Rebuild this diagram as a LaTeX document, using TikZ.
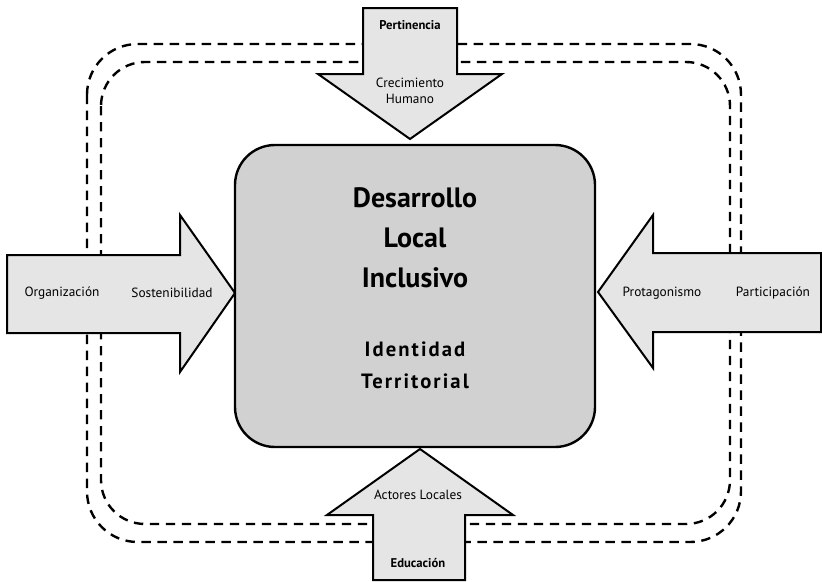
\documentclass[tikz,border=0pt]{standalone}
\usepackage{fontspec}
\setmainfont{PT Sans}
\newfontfamily\spacedfont[LetterSpace=10]{PT Sans}
\usetikzlibrary{positioning}

\tikzset{
	flecha/.style={draw=black, line width=1.5pt, fill=black!10, line join=miter},
	borde/.style={dash pattern=on 7pt off 5pt, line width=1.8pt},
	caja/.style={draw=black, line width=1.8pt, fill=black!18, rounded corners=30pt},
	etiqueta/.style={font=\fontsize{10}{12}\selectfont, align=center, inner sep=0pt},
	negrita/.style={font=\fontsize{9.5}{11}\selectfont\bfseries, inner sep=0pt},
	titulo/.style={font=\fontsize{21}{30}\selectfont\bfseries, align=center, inner sep=0pt},
	subtitulo/.style={font=\fontsize{15.5}{24}\selectfont\spacedfont\bfseries, align=center, inner sep=0pt}
}

\begin{document}
\begin{tikzpicture}[x=0.75pt, y=-0.75pt]
	\useasboundingbox (0,0) rectangle (822,582);

	% lineas discontinuas
	\draw[borde, rounded corners=38pt] (87,44) rectangle (741,542);
	\draw[borde, rounded corners=33pt] (101,62) rectangle (730,524);

	% flechas
	\filldraw[flecha] (363,8) -- (457,8) -- (457,74) -- (502,74) -- (410,139) -- (318,74) -- (363,74) -- cycle;
	\filldraw[flecha] (373,580) -- (465,580) -- (465,515) -- (513,515) -- (420,449) -- (327,515) -- (373,515) -- cycle;
	\filldraw[flecha] (7,255) -- (180,255) -- (180,215) -- (235,293) -- (180,372) -- (180,333) -- (7,333) -- cycle;
	\filldraw[flecha] (821,253) -- (653,253) -- (653,215) -- (598,292) -- (653,368) -- (653,332) -- (821,332) -- cycle;

	% caja central
	\filldraw[caja] (235,145) rectangle (595,447);

	\node[titulo] at (415,238) (dli) {Desarrollo\\Local\\Inclusivo};
	\node[subtitulo] at (415,365) (it) {Identidad\\Territorial};

	\node[negrita] at (410,25) (per) {Pertinencia};
	\node[etiqueta] at (410,91) (ch) {Crecimiento\\Humano};

	\node[etiqueta] at (418,495) (al) {Actores Locales};
	\node[negrita] at (418,563) (edu) {Educación};

	\node[etiqueta] at (62,293) (org) {Organización};
	\node[etiqueta] at (172,293) (sos) {Sostenibilidad};

	\node[etiqueta] at (662,293) (pro) {Protagonismo};
	\node[etiqueta] at (773,293) (par) {Participación};
\end{tikzpicture}
\end{document}
